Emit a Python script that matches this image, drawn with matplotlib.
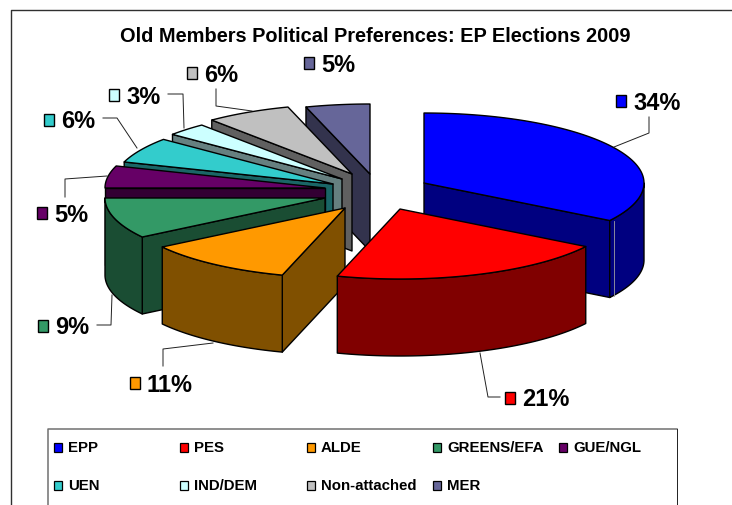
import numpy as np
import matplotlib
matplotlib.use('Agg')
import matplotlib.pyplot as plt
from matplotlib.patches import Polygon, Rectangle

groups = ['EPP', 'PES', 'ALDE', 'GREENS/EFA', 'GUE/NGL', 'UEN', 'IND/DEM', 'Non-attached', 'MER']
shares = [34.0, 20.6, 11.0, 9.4, 5.1, 5.9, 3.0, 6.3, 4.7]
top_colors = ['#0000FF', '#FF0000', '#FF9900', '#339966', '#660066', '#33CCCC', '#CCFFFF', '#C0C0C0', '#666699']
side_colors = ['#000080', '#800000', '#805000', '#1A4D33', '#330033', '#1A6666', '#668080', '#606060', '#33334D']
title = 'Old Members Political Preferences: EP Elections 2009'

# layout, all in pixels of the 732x505 picture
FONT = 'Liberation Sans'
RX, RY, DEPTH = 220, 70, 77
tips = [(424, 183), (400, 209), (345, 208), (325, 198), (325, 188), (333, 184), (342, 179), (352, 174), (370, 174)]
draw_order = [8, 7, 6, 5, 4, 3, 0, 2, 1]
label_pos = [(616, 95), (505, 392), (130, 377), (38, 320), (37, 207), (44, 114), (109, 89), (187, 67), (304, 57)]
leaders = [
    [(614, 147), (649, 133), (649, 117)],
    [(480, 353), (488, 397), (500, 397)],
    [(213, 343), (163, 349), (163, 366)],
    [(112, 295), (111, 325), (97, 325)],
    [(107, 176), (65, 179), (65, 197)],
    [(137, 148), (117, 118), (103, 118)],
    [(184, 128), (183, 94), (168, 94)],
    [(252, 111), (216, 106), (216, 89)],
]
legend_pos = [(54, 447), (180, 447), (307, 447), (433, 447), (559, 447),
              (54, 485), (180, 485), (307, 485), (433, 485)]

fig = plt.figure(figsize=(7.32, 5.05), dpi=100)
ax = fig.add_axes([0, 0, 1, 1])
ax.set_xlim(0, 732)
ax.set_ylim(505, 0)
ax.axis('off')

edges = np.cumsum([0] + shares) * 3.6


def rim(cx, cy, a0, a1):
    t = np.radians(np.linspace(a0, a1, 80))
    return np.column_stack([cx + RX * np.sin(t), cy - RY * np.cos(t)])


def drop(pts):
    return pts + np.array([0, DEPTH])


for i in draw_order:
    cx, cy = tips[i]
    a0, a1 = edges[i], edges[i + 1]
    arc = rim(cx, cy, a0, a1)
    tip = np.array([[cx, cy]])
    style = dict(ec='black', lw=1.0, joinstyle='round')
    # only faces turned to the viewer get drawn
    if np.sin(np.radians(a0)) < -0.01:
        cut = np.vstack([tip, arc[:1], drop(arc[:1]), drop(tip)])
        ax.add_patch(Polygon(cut, fc=side_colors[i], **style))
    if np.sin(np.radians(a1)) > 0.01:
        cut = np.vstack([tip, arc[-1:], drop(arc[-1:]), drop(tip)])
        ax.add_patch(Polygon(cut, fc=side_colors[i], **style))
    lo, hi = max(a0, 90), min(a1, 270)
    if hi > lo:
        front = rim(cx, cy, lo, hi)
        wall = np.vstack([front, drop(front)[::-1]])
        ax.add_patch(Polygon(wall, fc=side_colors[i], **style))
    ax.add_patch(Polygon(np.vstack([tip, arc]), fc=top_colors[i], **style))

# pale line between the two front parts of the EPP wall
ax.plot([613.5, 613.5], [221, 296], color='#A0A0A0', lw=0.6)

for pts in leaders:
    xs, ys = zip(*pts)
    ax.plot(xs, ys, color='#202020', lw=0.7)

for i, (x, y) in enumerate(label_pos):
    ax.add_patch(Rectangle((x, y), 10, 12, fc=top_colors[i], ec='black', lw=1.0))
    ax.text(x + 17, y + 8, f'{shares[i]:.0f}%', fontsize=17, fontweight='bold',
            family=FONT, va='center', ha='left', color='black')

ax.text(375, 37, title, fontsize=14.4, fontweight='bold', family=FONT,
        ha='center', va='center', color='black')

for i, (x, y) in enumerate(legend_pos):
    ax.add_patch(Rectangle((x, y - 4), 8, 9, fc=top_colors[i], ec='black', lw=0.9))
    ax.text(x + 14, y + 1, groups[i], fontsize=10.8, fontweight='bold', family=FONT,
            va='center', ha='left', color='black')

# outer frame and legend box, both run off the bottom of the picture
ax.plot([11, 11, 732], [505, 10, 10], color='#303030', lw=1.0)
ax.plot([47.5, 47.5, 677], [505, 429, 429], color='#707070', lw=1.1)
ax.plot([677, 677], [429, 505], color='#202020', lw=0.7)

fig.savefig('out.png', dpi=100)
